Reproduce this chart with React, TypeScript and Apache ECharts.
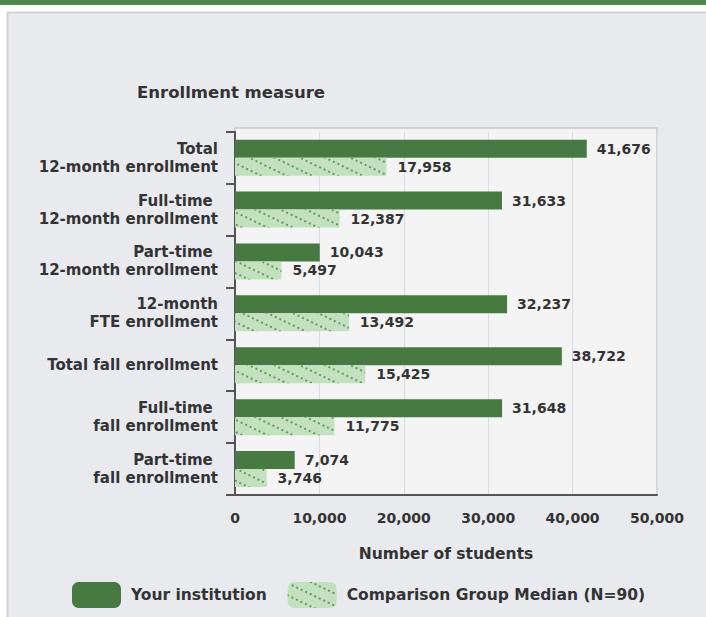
import React, { useEffect, useRef } from "react";
import * as echarts from "echarts";

const categories = [
  "Total\n12-month enrollment",
  "Full-time \n12-month enrollment",
  "Part-time \n12-month enrollment",
  "12-month\nFTE enrollment",
  "Total fall enrollment",
  "Full-time \nfall enrollment",
  "Part-time \nfall enrollment",
];
const institutionValues = [41676, 31633, 10043, 32237, 38722, 31648, 7074];
const medianValues = [17958, 12387, 5497, 13492, 15425, 11775, 3746];
const seriesNames = ["Your institution", "Comparison Group Median (N=90)"];
const xMin = 0;
const xMax = 50000;
const xInterval = 10000;

const FONT = "DejaVu Sans";
const TEXT = "#333333";

export default function App() {
  const ref = useRef<HTMLDivElement>(null);
  useEffect(() => {
    if (!ref.current) return;
    const chart = echarts.init(ref.current, null, { renderer: "svg" });
    const fmt = (v: number) => v.toLocaleString("en-US");
    chart.setOption({
      animation: false,
      backgroundColor: "#ffffff",
      title: {
        text: "Enrollment measure",
        left: 132,
        top: 79,
        textStyle: { fontFamily: FONT, fontWeight: "bold", fontSize: 16.5, color: TEXT },
      },
      graphic: [
        { type: "rect", z: -20, silent: true, shape: { x: 0, y: 0, width: 706, height: 5 }, style: { fill: "#4b8a4b" } },
        { type: "rect", z: -20, silent: true, shape: { x: 7.5, y: 12.5, width: 710, height: 620 }, style: { fill: "#e9eaee", stroke: "#d2d2d4", lineWidth: 2 } },
        { type: "rect", z: -19, silent: true, shape: { x: 235, y: 128, width: 422, height: 367 }, style: { fill: "#f4f4f4", stroke: "#c6c8cc", lineWidth: 1.5 } },
      ],
      grid: { left: 235, right: 49, top: 131.7, bottom: 122 },
      legend: {
        left: 67,
        top: 577,
        itemWidth: 49,
        itemHeight: 26,
        itemGap: 21,
        icon: "roundRect",
        textStyle: { fontFamily: FONT, fontWeight: "bold", fontSize: 15.5, color: TEXT, padding: [0, 0, 0, 5] },
        data: seriesNames,
      },
      xAxis: {
        type: "value",
        min: xMin,
        max: xMax,
        interval: xInterval,
        name: "Number of students",
        nameLocation: "middle",
        nameGap: 51,
        nameTextStyle: { fontFamily: FONT, fontWeight: "bold", fontSize: 15.5, color: TEXT },
        axisLine: { show: true, lineStyle: { color: "#555555", width: 2 } },
        axisTick: { show: false },
        axisLabel: {
          margin: 16,
          fontFamily: FONT,
          fontWeight: "bold",
          fontSize: 14,
          color: TEXT,
          formatter: (v: number) => fmt(v),
        },
        splitLine: { show: true, lineStyle: { color: "#d6dce8", width: 1 } },
      },
      yAxis: {
        type: "category",
        inverse: true,
        data: categories,
        axisLine: { show: true, lineStyle: { color: "#555555", width: 2 } },
        axisTick: { show: true, length: 9, lineStyle: { color: "#555555", width: 2 } },
        axisLabel: {
          margin: 17,
          fontFamily: FONT,
          fontWeight: "bold",
          fontSize: 15,
          lineHeight: 18,
          color: TEXT,
          align: "right",
        },
        splitLine: { show: false },
      },
      series: [
        {
          name: seriesNames[0],
          type: "bar",
          data: institutionValues,
          barWidth: 18,
          barGap: "0%",
          itemStyle: { color: "#467a41" },
          label: {
            show: true,
            position: "right",
            distance: 10,
            fontFamily: FONT,
            fontWeight: "bold",
            fontSize: 14,
            color: TEXT,
            formatter: (p: any) => fmt(p.value),
          },
        },
        {
          name: seriesNames[1],
          type: "bar",
          data: medianValues,
          barWidth: 18,
          barGap: "0%",
          itemStyle: {
            color: "#c3e1bf",
            decal: {
              symbol: "rect",
              symbolSize: 1,
              color: "#5e9c58",
              dashArrayX: [2, 3],
              dashArrayY: [2, 9],
              rotation: Math.PI / 7,
            },
          },
          label: {
            show: true,
            position: "right",
            distance: 11,
            fontFamily: FONT,
            fontWeight: "bold",
            fontSize: 14,
            color: TEXT,
            formatter: (p: any) => fmt(p.value),
          },
        },
      ],
    });
    return () => chart.dispose();
  }, []);
  return (
    <div
      ref={ref}
      style={{ position: "fixed", left: 0, top: 0, width: 706, height: 617 }}
    />
  );
}
